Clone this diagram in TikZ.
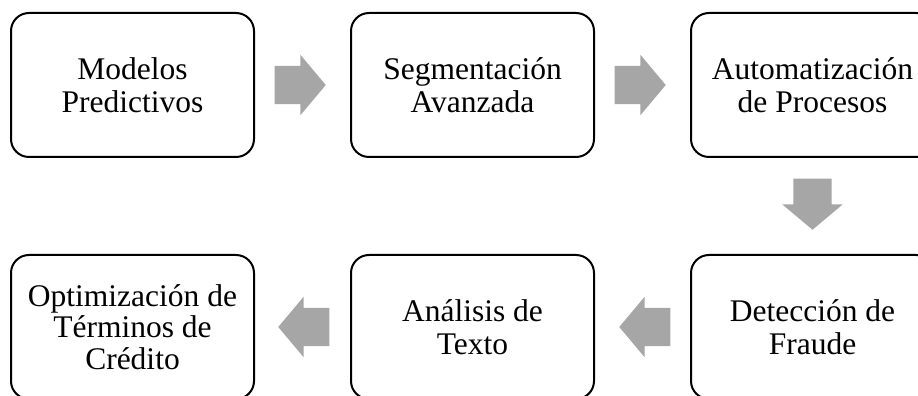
\documentclass[tikz,border=0pt]{standalone}
\usepackage{fontspec}
\setmainfont{Liberation Serif}
\newfontfamily\boxfont{Liberation Serif}
\usetikzlibrary{positioning,calc,shapes.arrows}

\definecolor{arrowgray}{HTML}{A6A6A6}
\tikzset{
  stepbox/.style={draw=black, line width=2pt, rounded corners=18pt,
    minimum width=243pt, minimum height=144pt, inner sep=0pt,
    align=center, font=\boxfont\fontsize{31.5}{33.5}\selectfont},
  tightbox/.style={stepbox, font=\boxfont\fontsize{31.5}{31.7}\selectfont},
  fatarrow/.style={single arrow, fill=arrowgray, draw=none, inner sep=0pt,
    minimum height=51pt, single arrow head extend=11pt,
    single arrow tip angle=100, anchor=tip}
}

\begin{document}
\begin{tikzpicture}[x=1pt,y=1pt]
    \useasboundingbox (0,0) rectangle (918,396);
    % top row
    \node[stepbox] (modelos) at (132.5,311) {Modelos\\Predictivos};
    \node[stepbox, right=95pt of modelos] (segment) {Segmentación\\Avanzada};
    \node[stepbox, right=95pt of segment] (automat) {Automatización\\de Procesos};
    % bottom row
    \node[stepbox, below=96pt of automat] (fraude) {Detección de\\Fraude};
    \node[stepbox, left=95pt of fraude] (texto) {Análisis de\\Texto};
    \node[tightbox, left=95pt of texto] (credito) {Optimización de\\Términos de\\Crédito};
    % arrows
    \node[fatarrow] (a1) at ($(segment.west)+(-24,0)$) {\rule{0pt}{38pt}};
    \node[fatarrow] (a2) at ($(automat.west)+(-24,0)$) {\rule{0pt}{38pt}};
    \node[fatarrow, rotate=270] (a3) at ($(fraude.north)+(0,24)$) {\rule{0pt}{38pt}};
    \node[fatarrow, rotate=180] (a4) at ($(texto.east)+(24,0)$) {\rule{0pt}{38pt}};
    \node[fatarrow, rotate=180] (a5) at ($(credito.east)+(23,0)$) {\rule{0pt}{38pt}};
\end{tikzpicture}
\end{document}
